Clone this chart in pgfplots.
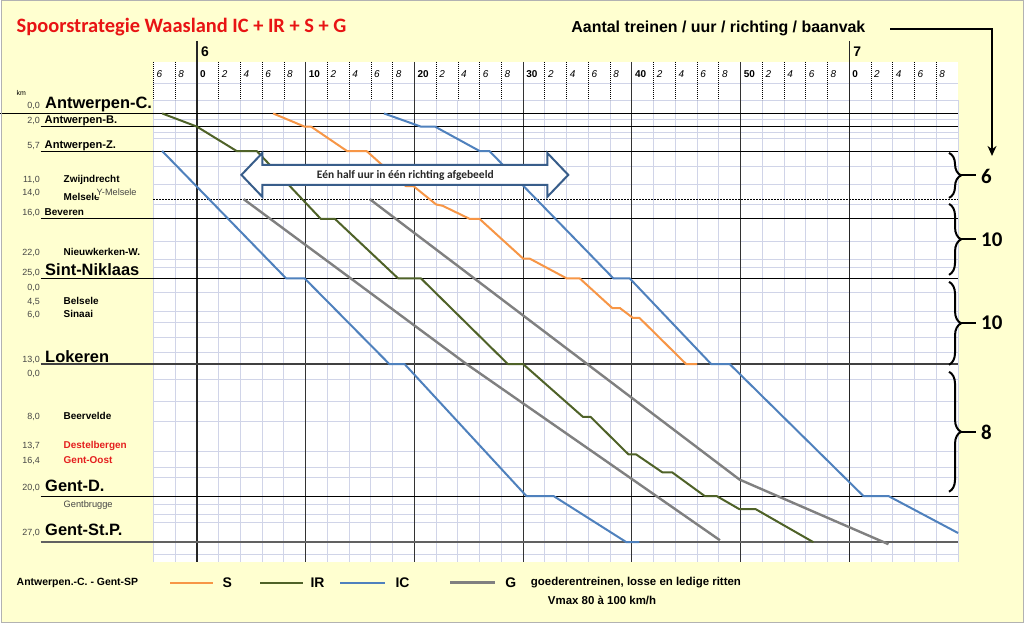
\documentclass[border=0pt]{standalone}
\usepackage{fontspec}
\setmainfont{Liberation Sans}
\newfontfamily\calfont{Carlito}
\usepackage{pgfplots}
\pgfplotsset{compat=1.18}
\usetikzlibrary{arrows.meta,decorations.pathreplacing}

\definecolor{bgyellow}{RGB}{255,255,208}
\definecolor{gridc}{RGB}{208,212,232}
\definecolor{colS}{RGB}{247,150,70}
\definecolor{colIR}{RGB}{79,98,40}
\definecolor{colIC}{RGB}{79,129,189}
\definecolor{colG}{RGB}{128,128,128}
\definecolor{arrowblue}{RGB}{56,93,138}
\definecolor{titlered}{RGB}{232,20,20}
\definecolor{stred}{RGB}{228,30,30}
\definecolor{kmgray}{RGB}{70,70,70}

\newcommand{\fs}[1]{\fontsize{#1}{#1}\selectfont}

\begin{document}
\begin{tikzpicture}
\fill[bgyellow] (0,0) rectangle (1024bp,-623bp);
\fill[white] (153bp,-62bp) rectangle (958bp,-562bp);

\begin{axis}[
  at={(153bp,-62bp)}, anchor=north west,
  width=805bp, height=500bp, scale only axis,
  xmin=-4, xmax=70,
  ymin=-7.803, ymax=67.955, y dir=reverse,
  hide axis, clip=false
]
  % light grid (2 min / rows)
  \pgfplotsinvokeforeach{-4,-2,...,70}{
    \draw[gridc,line width=0.9bp] (axis cs:#1,-2.045) -- (axis cs:#1,67.955);}
  \pgfplotsinvokeforeach{-4.62,-2.045,0.98,2.95,3.86,8.11,10.83,13.86,19.47,22.2,23.41,27.2,30.08,31.74,34.02,36.29,40.38,43.71,46.74,51.29,53.71,55.23,59.32,60.83,62.05,66.89}{
    \draw[gridc,line width=0.9bp] (axis cs:-4,#1) -- (axis cs:70,#1);}
  % dotted minute lines in the header
  \pgfplotsinvokeforeach{-4,-2,2,4,6,8,12,14,16,18,22,24,26,28,32,34,36,38,42,44,46,48,52,54,56,58,62,64,66,68}{
    \draw[black,line width=0.8bp,dash pattern=on 1bp off 1bp] (axis cs:#1,-7.803) -- (axis cs:#1,-2.045);}
  % 10 minute lines
  \pgfplotsinvokeforeach{10,20,30,40,50}{
    \draw[black!80,line width=1.2bp] (axis cs:#1,-7.803) -- (axis cs:#1,67.955);}
  \pgfplotsinvokeforeach{0,60}{
    \draw[black!85,line width=1.3bp] (axis cs:#1,-10.985) -- (axis cs:#1,67.955);}

  % station lines
  \draw[black,line width=1bp] (axis cs:-18.07,0) -- (axis cs:70,0);
  \pgfplotsinvokeforeach{2,5.7,16,25,58}{
    \draw[black,line width=1bp] (axis cs:-14.39,#1) -- (axis cs:70,#1);}
  \draw[black!75,line width=1.3bp] (axis cs:-14.39,38) -- (axis cs:70,38);
  \draw[black!62,line width=1.6bp] (axis cs:-14.39,65) -- (axis cs:70,65);
  \draw[black,line width=0.8bp,dash pattern=on 1.5bp off 1.5bp] (axis cs:-4,13) -- (axis cs:70,13);

  % G
  \addplot[colG,line width=2.4bp,line join=round] coordinates {
    (4.3,13)(24.8,38)(48.1,64.7)};
  \addplot[colG,line width=2.4bp,line join=round] coordinates {
    (15.9,13)(49.9,55.5)(63.6,65.3)};
  % IC
  \addplot[colIC,line width=2bp,line join=round] coordinates {
    (-3.2,5.7)(8.2,25)(9.9,25)(17.7,38)(19.1,38)(30.3,58)(32.8,58)
    (39.5,65)(40.7,65)};
  \addplot[colIC,line width=2bp,line join=round] coordinates {
    (17.2,0)(20.6,2)(21.9,2)(26.0,5.7)(26.9,5.7)(38.3,25)(39.8,25)
    (47.3,38)(49.0,38)(61.3,58)(63.6,58)(70,63.6)};
  % IR
  \addplot[colIR,line width=2bp,line join=round] coordinates {
    (-3.2,0)(0,2)(3.65,5.7)(5.5,5.7)(11.4,16)(12.7,16)(18.5,25)(20.6,25)
    (28.6,38)(30.0,38)(35.5,46)(36.2,46)(39.7,51.7)(40.4,51.7)
    (42.8,54.4)(43.7,54.4)(46.7,58)(47.8,58)(49.9,60)(51.4,60)(56.7,65)};
  % S
  \addplot[colS,line width=2bp,line join=round] coordinates {
    (7.0,0)(9.9,2)(10.5,2)(13.8,5.7)(15.6,5.7)(19.2,11)(19.9,11)
    (22.0,13.8)(22.6,14)(25.1,16)(26.0,16)(30.0,22)(30.6,22)(34.0,25)
    (35.2,25)(38.2,29.5)(38.9,29.5)(40.1,31)(40.7,31)(45.0,38)(46.0,38)};
\end{axis}

\begin{scope}[x=1bp,y=-1bp]
  % title and header
  \node[anchor=base west,inner sep=0pt,text=titlered] at (16,33)
    {\calfont\bfseries\fs{20.5}Spoorstrategie Waasland IC + IR + S + G};
  \node[anchor=base west,inner sep=0pt] at (571,33)
    {\bfseries\fs{16}Aantal treinen / uur / richting / baanvak};
  \draw[line width=2bp,-{Stealth[length=10bp,width=9bp]}]
    (890,29) -- (992,29) -- (992,156);
  \node[anchor=base west,inner sep=0pt] at (200.5,57) {\bfseries\fs{14}6};
  \node[anchor=base west,inner sep=0pt] at (853,57) {\bfseries\fs{14}7};
  \foreach \m/\t in {-4/6,-2/8,2/2,4/4,6/6,8/8,12/2,14/4,16/6,18/8,22/2,24/4,
      26/6,28/8,32/2,34/4,36/6,38/8,42/2,44/4,46/6,48/8,52/2,54/4,56/6,58/8,
      62/2,64/4,66/6,68/8}
    \node[anchor=base west,inner sep=0pt] at ({153+(\m+4)*10.878+3},78)
      {\fs{10}\itshape\t};
  \foreach \m/\t in {0/0,10/10,20/20,30/30,40/40,50/50,60/0}
    \node[anchor=base west,inner sep=0pt] at ({153+(\m+4)*10.878+3},78)
      {\fs{10}\bfseries\t};

  % km column
  \node[anchor=base west,inner sep=0pt] at (16,96) {\fs{7}km};
  \foreach \y/\k in {109/{0,0},124/{2,0},149/{5,7},183/{11,0},196/{14,0},
      216/{16,0},256/{22,0},276/{25,0},291/{0,0},305/{4,5},318/{6,0},
      363/{13,0},377/{0,0},420/{8,0},449/{13,7},464/{16,4},491/{20,0},
      536/{27,0}}
    \node[anchor=base east,inner sep=0pt,text=kmgray] at (39.5,\y) {\fs{9}\k};

  % station names
  \foreach \y/\s in {109/Antwerpen-C.,276/Sint-Niklaas,363/Lokeren,
      491.5/Gent-D.,536/Gent-St.P.}
    \node[anchor=base west,inner sep=0pt] at (44.5,\y) {\bfseries\fs{16.5}\s};
  \foreach \y/\s in {124/Antwerpen-B.,149/Antwerpen-Z.}
    \node[anchor=base west,inner sep=0pt] at (44,\y) {\bfseries\fs{11.2}\s};
  \node[anchor=base west,inner sep=0pt] at (44,216) {\bfseries\fs{10}Beveren};
  \foreach \y/\s in {183/Zwijndrecht,201/Melsele,256/Nieuwkerken-W.,
      305/Belsele,318/Sinaai,420/Beervelde}
    \node[anchor=base west,inner sep=0pt] at (63,\y) {\bfseries\fs{10}\s};
  \node[anchor=base west,inner sep=1pt,fill=bgyellow,text=kmgray] at (95,196)
    {\fs{9.2}Y-Melsele};
  \foreach \y/\s in {449/Destelbergen,464/Gent-Oost}
    \node[anchor=base west,inner sep=0pt,text=stred] at (63,\y) {\bfseries\fs{10}\s};
  \node[anchor=base west,inner sep=0pt,text=kmgray] at (63,508) {\fs{9.3}Gentbrugge};

  % double arrow
  \draw[arrowblue,line width=2bp,fill=white,line join=miter]
    (241,175) -- (262,153) -- (262,165) -- (547,165) -- (547,153) -- (568,175)
    -- (547,197) -- (547,185) -- (262,185) -- (262,197) -- cycle;
  \node[text=black!85] at (405,175.5)
    {\calfont\bfseries\fs{11.5}Eén half uur in één richting afgebeeld};

  % braces with counts
  \foreach \a/\b/\n/\t in {153/198/6/184,204/275/10/246.5,282/365/10/330,
      372/492/8/440}{
    \draw[line width=2bp,decorate,decoration={brace,amplitude=12bp}]
      (949,\a) -- (949,\b);
    \draw[line width=2bp] (960,{(\a+\b)/2}) -- (976,{(\a+\b)/2});
    \node[anchor=base west,inner sep=0pt] at (981,\t) {\calfont\bfseries\fs{21}\n};
  }

  % legend
  \node[anchor=base west,inner sep=0pt] at (16,586)
    {\bfseries\fs{10.5}Antwerpen.-C. - Gent-SP};
  \draw[colS,line width=2.2bp] (170,583) -- (213,583);
  \node[anchor=base west,inner sep=0pt] at (222,588) {\bfseries\fs{14}S};
  \draw[colIR,line width=2.2bp] (260,583) -- (303,583);
  \node[anchor=base west,inner sep=0pt] at (310,588) {\bfseries\fs{14}IR};
  \draw[colIC,line width=2.2bp] (340,583) -- (385,583);
  \node[anchor=base west,inner sep=0pt] at (395,588) {\bfseries\fs{14}IC};
  \draw[colG,line width=3bp] (450,583) -- (495,583);
  \node[anchor=base west,inner sep=0pt] at (505,588) {\bfseries\fs{14}G};
  \node[anchor=base west,inner sep=0pt] at (530.5,586)
    {\bfseries\fs{11.5}goederentreinen, losse en ledige ritten};
  \node[anchor=base west,inner sep=0pt] at (547.5,605)
    {\bfseries\fs{11.5}Vmax 80 à 100 km/h};

  \draw[black!30,line width=1bp] (0.5,0.5) rectangle (1023.5,622.5);
\end{scope}
\end{tikzpicture}
\end{document}
